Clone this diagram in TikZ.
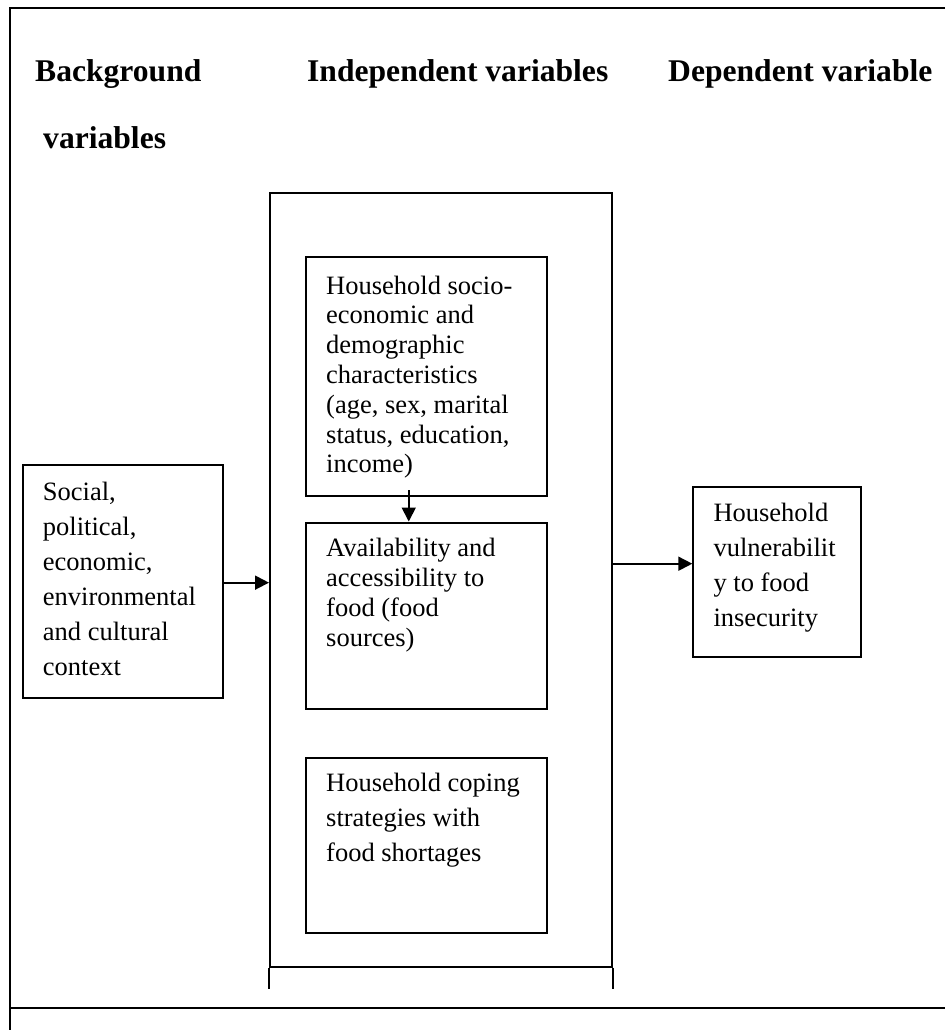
\documentclass[tikz,border=0pt]{standalone}
\usepackage{fontspec}
\setmainfont{Liberation Serif}
\usetikzlibrary{arrows.meta}
\begin{document}
\begin{tikzpicture}[x=1pt,y=-1pt,
  outerline/.style={line width=2pt},
  box/.style={draw, line width=2pt, rectangle, anchor=north west, inner sep=0pt},
  txtA/.style={anchor=base west, inner sep=0pt, font=\fontsize{26.5}{29.8}\selectfont},
  txtB/.style={anchor=base west, inner sep=0pt, font=\fontsize{26.5}{35}\selectfont},
  head/.style={anchor=base west, inner sep=0pt, font=\fontsize{31.6}{36}\selectfont\bfseries},
  arr/.style={line width=1.8pt, -{Triangle[length=14pt,width=14pt]}}
]
\useasboundingbox (0,0) rectangle (945,1030);

% outer frame (table cell, cut by the page)
\coordinate (ftr) at (945,8.3);
\coordinate (ftl) at (9.5,8.3);
\coordinate (fbl) at (9.5,1030);
\coordinate (frl) at (9.5,1007.5);
\coordinate (frr) at (945,1007.5);
\draw[outerline] (ftr) -- (ftl) -- (fbl);
\draw[outerline] (frl) -- (frr);

% headings
\node[head] (h1) at (35,82) {Background};
\node[head] (h1b) at (43,148) {variables};
\node[head] (h2) at (307,82) {Independent variables};
\node[head] (h3) at (668,82) {Dependent variable};

% middle container
\node[box, minimum width=342pt, minimum height=773.5pt] (mid) at (269,192) {};
\draw[outerline] (mid.south west) -- ++(0,21.5);
\draw[outerline] (mid.south east) -- ++(0,21.5);

% inner boxes
\node[box, minimum width=240.5pt, minimum height=239pt] (b1) at (305,256) {};
\node[box, minimum width=240.5pt, minimum height=186pt] (b2) at (305,521.5) {};
\node[box, minimum width=240.5pt, minimum height=175pt] (b3) at (305,757.3) {};

% side boxes
\node[box, minimum width=200.6pt, minimum height=233.3pt] (lb) at (21.7,464) {};
\node[box, minimum width=167.7pt, minimum height=170pt] (rb) at (692.3,485.7) {};

% texts
\node[txtA] (t1) at (326,294) {\parbox[t]{215pt}{Household socio-\\economic and\\demographic\\characteristics\\(age, sex, marital\\status, education,\\income)}};
\node[txtA] (t2) at (326,556.7) {\parbox[t]{215pt}{Availability and\\accessibility to\\food (food\\sources)}};
\node[txtB] (t3) at (326,791.7) {\parbox[t]{215pt}{Household coping\\strategies with\\food shortages}};
\node[txtB] (tl) at (42.7,500) {\parbox[t]{178pt}{Social,\\political,\\economic,\\environmental\\and cultural\\context}};
\node[txtB] (tr) at (713.3,521.7) {\parbox[t]{145pt}{Household\\vulnerabilit\\y to food\\insecurity}};

% connectors
\coordinate (la) at ([yshift=-1pt]lb.east);
\draw[arr] (la) -- (la -| mid.west);
\coordinate (ra) at ([yshift=8pt]rb.west);
\draw[arr] (ra -| mid.east) -- (ra);
\coordinate (da) at ([xshift=-17.5pt]b2.north);
\draw[arr] ([xshift=-17.5pt,yshift=7pt]b1.south) -- (da);
\end{tikzpicture}
\end{document}
